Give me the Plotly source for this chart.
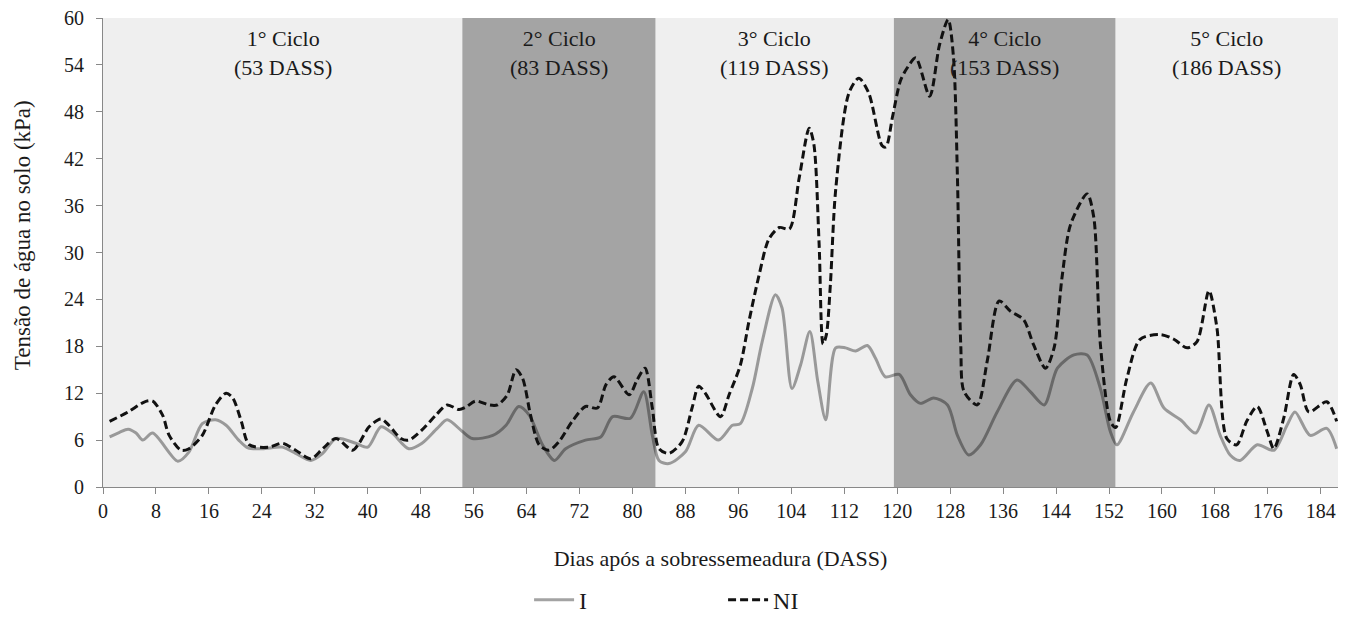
import plotly.graph_objects as go

# Days after overseeding (DASS) and soil water tension (kPa)
i_days = [1, 2.5, 3.8, 5, 6, 7.5, 11.3, 13, 15, 17, 18.6, 20.5, 21.9, 24.1, 27.1, 29.1, 31.4, 33.2, 35.2,
          38.2, 40, 42, 43.7, 46.2, 48.2, 50.5, 52, 54.3, 55.8, 58.9, 60.9, 62.8, 64.4, 66.4, 68.2, 69.9,
          72.9, 75.2, 77, 79.7, 81.7, 83, 84, 85.5, 88, 90, 93, 95.1, 96.3, 98.1, 99.6, 101.6, 102.6, 104.1,
          105.4, 106.8, 108, 109.2, 110.7, 112.2, 113.7, 115.5, 116.7, 118.2, 120.3, 122, 123.5, 125.5,
          127.6, 129.1, 130.8, 132.6, 135.1, 138.1, 140.1, 142.2, 144.2, 146.7, 148.7, 150.7, 152.2, 153.2,
          155.7, 158.3, 160.3, 162.8, 165.1, 167.1, 168.8, 170.3, 171.8, 174.4, 176.9, 178.9, 180.1, 182.4,
          184.9, 186.4]
i_kpa = [6.4, 7.0, 7.4, 6.9, 6.0, 6.9, 3.3, 4.5, 8.1, 8.6, 7.9, 6.0, 5.0, 4.9, 5.1, 4.3, 3.4, 4.3, 6.2,
         5.6, 5.1, 7.7, 6.9, 4.9, 5.6, 7.5, 8.6, 7.1, 6.2, 6.6, 7.9, 10.3, 9.2, 5.4, 3.4, 4.9,
         6.0, 6.4, 9.0, 8.8, 12.2, 6.6, 3.4, 3.0, 4.5, 7.9, 6.0, 7.9, 8.1, 12.6, 18.6, 24.6, 22.9, 12.6,
         15.6, 19.9, 13.5, 8.6, 17.8, 17.8, 17.4, 18.1, 16.5, 14.1, 14.4, 11.8, 10.7, 11.4,
         10.5, 6.6, 4.1, 5.4, 9.6, 13.7, 12.2, 10.5, 15.2, 16.9, 16.9, 12.6, 7.1, 5.4,
         9.6, 13.3, 10.1, 8.6, 6.9, 10.5, 6.6, 4.1, 3.4, 5.4, 4.7, 7.9, 9.6, 6.6,
         7.5, 4.9]

ni_days = [1, 3.8, 6.3, 7.5, 9, 10, 11.8, 13, 15, 17, 18.6, 19.6, 20.9, 22.1, 25.1, 27.1, 29.1, 31.4, 33.2,
           35.2, 37.7, 38.7, 40.2, 42, 43.2, 45, 46.2, 48.2, 50.3, 52, 53.8, 54.8, 56.3, 58.3, 59.6, 61.1,
           62.4, 63.4, 64.6, 65.9, 67.4, 68.9, 70.9, 72.9, 74.7, 76, 77.2, 79.5, 80.7, 81.9, 83, 84, 85.5,
           87.5, 89, 90, 91, 93.3, 94.6, 96.3, 97.6, 99.1, 100.6, 102.2, 103.7, 105.2, 106.7, 107.4, 108.2,
           108.8, 109.3, 109.9, 110.7, 112.7, 114.2, 115.7, 117.7, 118.3, 119.3, 120.5, 121.5, 122.8, 124.9,
           126.4, 127.7, 128.5, 129.1, 129.6, 130.1, 132.1, 133.6, 135.4, 137.1, 139.1, 140.6, 142.4, 143.7,
           144.9, 146.2, 148.7, 149.7, 150.7, 152.2, 153, 154.7, 156.7, 159.8, 161.8, 163.8, 165.3, 167.1,
           168.3, 169.8, 171.3, 172.8, 174.4, 175.9, 176.9, 178.4, 179.9, 180.9, 182.2, 184.9, 186.4]
ni_kpa = [8.4, 9.6, 10.9, 11.0, 9.2, 6.6, 4.7, 4.9, 6.6, 10.5, 12.0, 11.4, 8.4, 5.4, 5.1, 5.6, 4.7, 3.6, 4.9,
          6.2, 4.7, 5.6, 7.7, 8.7, 7.9, 6.2, 6.0, 7.3, 9.2, 10.5, 9.9, 10.2, 11.0, 10.5, 10.5, 11.8,
          15.0, 13.9, 9.2, 5.4, 4.7, 5.8, 8.4, 10.3, 10.1, 13.1, 14.1, 11.8, 13.7, 15.2, 10.1, 4.9, 4.3,
          5.8, 10.1, 12.9, 12.0, 9.0, 11.8, 15.6, 21.2, 27.0, 31.7, 33.2, 33.0, 39.6, 45.9, 43.9, 31.1,
          18.3, 19.5, 25.9, 38.0, 50.4, 52.3, 50.4, 43.7, 43.5, 47.4, 52.0, 53.6, 54.9, 50.0,
          56.6, 59.8, 55.0, 39.6, 18.2, 12.2, 10.5, 16.1, 23.8, 22.5, 21.4, 18.2, 15.2, 17.8,
          26.8, 33.6, 37.5, 34.5, 18.2, 8.4, 7.6, 13.9, 18.9, 19.5, 18.9, 17.8, 18.6, 25.1,
          20.4, 6.2, 5.4, 8.4, 10.3, 7.1, 4.9, 8.8, 14.4, 13.1, 9.6, 10.9, 8.4]

cycle_starts = [0, 54.3, 83.5, 119.5, 153.0]
cycle_ends = [54.3, 83.5, 119.5, 153.0, 186.6]
cycle_labels = ["1° Ciclo<br>(53 DASS)", "2° Ciclo<br>(83 DASS)", "3° Ciclo<br>(119 DASS)",
                "4° Ciclo<br>(153 DASS)", "5° Ciclo<br>(186 DASS)"]
x_ticks = list(range(0, 185, 8))
y_ticks = list(range(0, 61, 6))

FONT = "Liberation Serif"
fig = go.Figure()

fig.add_trace(go.Scatter(x=i_days, y=i_kpa, name="I", mode="lines",
                         line=dict(color="rgba(0,0,0,0.36)", width=3, shape="spline", smoothing=0.8)))
fig.add_trace(go.Scatter(x=ni_days, y=ni_kpa, name="NI", mode="lines",
                         line=dict(color="#111111", width=3, dash="8px,4px", shape="spline", smoothing=0.8)))

shapes = []
for k, (a, b) in enumerate(zip(cycle_starts, cycle_ends)):
    shapes.append(dict(type="rect", xref="x", yref="paper", x0=a, x1=b, y0=0, y1=1,
                       fillcolor="#a4a4a4" if k % 2 == 1 else "#efefef",
                       line=dict(width=0), layer="below"))
annotations = []
for a, b, lab in zip(cycle_starts, cycle_ends, cycle_labels):
    annotations.append(dict(x=(a + b) / 2, y=60, xref="x", yref="y", text=lab, showarrow=False,
                            yanchor="top", yshift=-6, font=dict(family=FONT, size=22, color="#1a1a1a")))
# y-axis title (placed slightly above the plot centre, as in the original)
annotations.append(dict(x=-0.0656, y=0.537, xref="paper", yref="paper", text="Tensão de água no solo (kPa)",
                        textangle=-90, showarrow=False, xanchor="center", yanchor="middle",
                        font=dict(family=FONT, size=23, color="#1a1a1a")))

fig.update_layout(
    width=1352, height=637,
    margin=dict(l=95, r=22, t=10, b=158),
    paper_bgcolor="white", plot_bgcolor="#efefef",
    font=dict(family=FONT, size=20, color="#1a1a1a"),
    shapes=shapes, annotations=annotations,
    showlegend=True,
    legend=dict(orientation="h", x=0.345, xanchor="left", y=-0.241, yanchor="middle",
                entrywidth=139, entrywidthmode="pixels", font=dict(family=FONT, size=24),
                itemwidth=40),
    xaxis=dict(range=[0, 186.6], tickvals=x_ticks, ticks="outside", ticklen=6, tickcolor="#888",
               showline=True, linecolor="#888", linewidth=1, showgrid=False, zeroline=False,
               automargin=False, ticklabeloverflow="allow", tickfont=dict(family=FONT, size=20),
               title=dict(text="Dias após a sobressemeadura (DASS)", standoff=29,
                          font=dict(family=FONT, size=22))),
    yaxis=dict(range=[0, 60], tickvals=y_ticks, ticks="outside", ticklen=6, tickcolor="#888",
               showline=True, linecolor="#888", linewidth=1, showgrid=False, zeroline=False,
               automargin=False, ticklabeloverflow="allow", ticklabelstandoff=8,
               tickfont=dict(family=FONT, size=20)),
)

fig.write_html("out.html")
